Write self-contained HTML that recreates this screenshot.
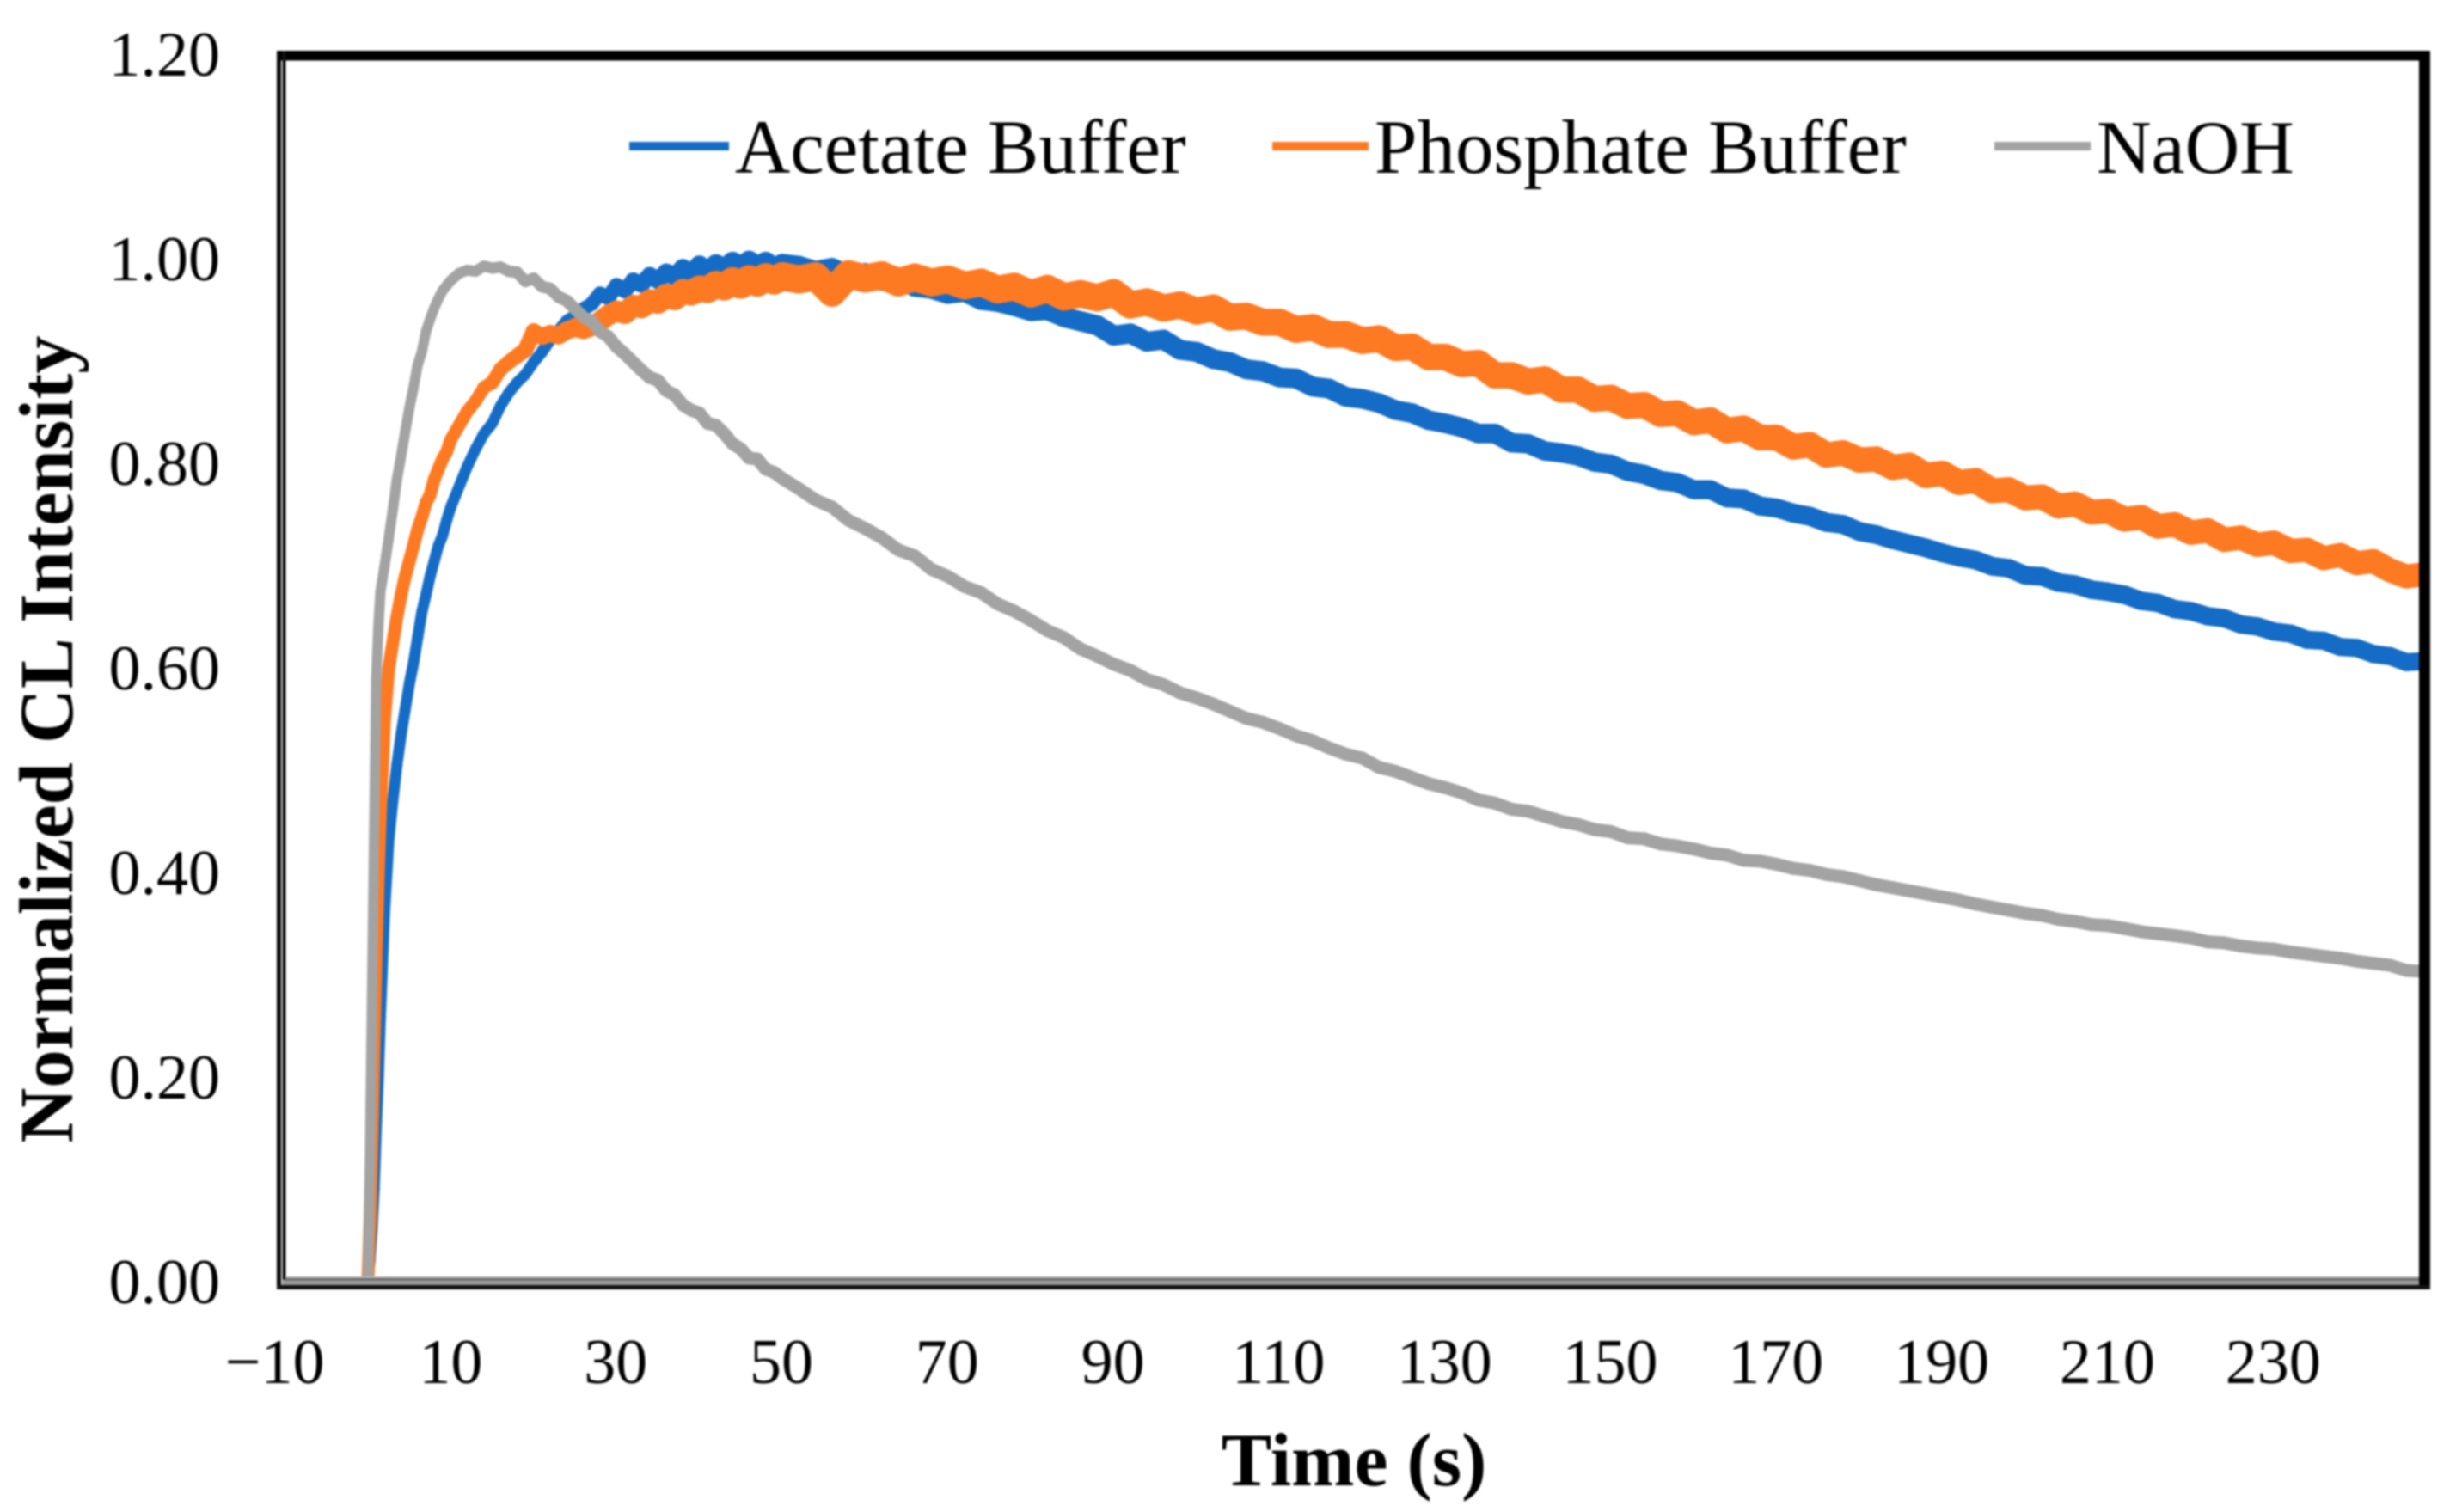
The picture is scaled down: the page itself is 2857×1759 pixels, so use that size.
<!DOCTYPE html>
<html lang="en">
<head>
<meta charset="utf-8">
<title>Normalized CL Intensity vs Time</title>
<style>
html,body{margin:0;padding:0;background:#fff;}
body{width:2857px;height:1759px;overflow:hidden;}
svg{display:block;filter:blur(1px);}
text{font-family:"Liberation Serif",serif;fill:#000;}
</style>
</head>
<body>
<svg id="chart" xmlns="http://www.w3.org/2000/svg" width="2857" height="1759" viewBox="0 0 2857 1759">
  <defs>
    <clipPath id="plot-clip"><rect x="333" y="70" width="2488" height="1425"/></clipPath>
  </defs>
  <rect x="0" y="0" width="2857" height="1759" fill="#fff"/>
  <g id="series-layer" clip-path="url(#plot-clip)"></g>
  <g>
    <rect x="322" y="59" width="2505" height="11.5" fill="#000"/>
    <rect x="2814" y="59" width="13" height="1441" fill="#000"/>
    <rect x="322" y="59" width="5" height="1441" fill="#000"/>
    <rect x="328.5" y="59" width="4" height="1430" fill="#111"/>
    <rect x="332" y="1485" width="2482" height="2" fill="#bbb"/>
    <rect x="332" y="1487" width="2482" height="2.5" fill="#666"/>
    <rect x="328" y="1489.5" width="2486" height="6" fill="#999"/>
    <rect x="322" y="1495" width="2505" height="5" fill="#111"/>
  </g>
  <g id="tick-layer"></g>
  <text transform="translate(84,860) rotate(-90)" text-anchor="middle" font-size="88.5" font-weight="700">Normalized CL Intensity</text>
  <text x="1575" y="1728" text-anchor="middle" font-size="88" font-weight="700">Time (s)</text>
  <g>
    <line x1="732" x2="848" y1="170" y2="170" stroke="#156cc6" stroke-width="10"/>
    <text x="855" y="201" font-size="89">Acetate Buffer</text>
    <line x1="1480" x2="1592" y1="170" y2="170" stroke="#fe7a22" stroke-width="10"/>
    <text x="1599" y="201" font-size="89">Phosphate Buffer</text>
    <line x1="2320" x2="2432" y1="170" y2="170" stroke="#a3a3a3" stroke-width="10"/>
    <text x="2439" y="201" font-size="88">NaOH</text>
  </g>
</svg>
<script>
const times = [0,0.25,0.5,0.75,1,1.25,1.5,2,2.5,3,3.5,4,4.5,5,5.5,6,6.5,7,7.5,8,8.5,9,9.5,10,
11,12,13,14,15,16,17,18,19,20,21,22,23,24,25,26,27,28,29,30,31,32,33,34,35,36,37,38,39,40,41,42,43,44,45,46,47,48,49,50,
52,54,56,58,60,62,64,66,68,70,72,74,76,78,80,82,84,86,88,90,92,94,96,98,100,102,104,106,108,110,112,114,116,118,120,
122,124,126,128,130,132,134,136,138,140,142,144,146,148,150,152,154,156,158,160,162,164,166,168,170,172,174,176,178,180,
182,184,186,188,190,192,194,196,198,200,202,204,206,208,210,212,214,216,218,220,222,224,226,228,230,232,234,236,238,240,242,244,246,248];

const acetate = [0,0.02,0.05,0.09,0.15,0.2,0.26,0.36,0.43,0.47,0.505,0.535,0.56,0.585,0.605,0.63,0.655,0.672,0.69,0.705,0.72,0.73,0.745,0.758,
0.778,0.798,0.815,0.83,0.84,0.857,0.87,0.88,0.888,0.9,0.91,0.922,0.93,0.94,0.945,0.952,0.957,0.967,0.963,0.975,0.97,0.98,0.976,0.985,0.98,0.988,0.984,0.992,0.987,0.995,0.989,0.996,0.991,0.998,0.993,0.999,0.993,0.998,0.992,0.996,
0.994,0.989,0.992,0.985,0.987,0.98,0.983,0.974,0.972,0.967,0.969,0.961,0.959,0.955,0.95,0.951,0.944,0.94,0.936,0.926,
0.928,0.92,0.922,0.912,0.91,0.903,0.9,0.893,0.891,0.885,0.884,0.876,0.874,0.866,0.864,0.86,0.853,0.85,0.843,0.84,
0.836,0.83,0.83,0.821,0.82,0.813,0.811,0.808,0.802,0.8,0.793,0.79,0.784,0.782,0.775,0.775,0.767,0.766,0.759,0.757,
0.752,0.749,0.743,0.741,0.734,0.731,0.726,0.722,0.718,0.713,0.709,0.706,0.7,0.698,0.691,0.69,0.684,0.682,0.677,0.675,
0.672,0.666,0.664,0.658,0.656,0.651,0.649,0.643,0.641,0.636,0.634,0.628,0.627,0.621,0.62,0.614,0.612,0.606,0.607];

const phosphate = [0,0.06,0.14,0.24,0.33,0.4,0.46,0.55,0.6,0.625,0.65,0.672,0.69,0.705,0.72,0.736,0.748,0.762,0.77,0.785,0.795,0.805,0.812,0.824,
0.838,0.852,0.862,0.875,0.88,0.893,0.9,0.906,0.912,0.93,0.925,0.928,0.926,0.931,0.934,0.932,0.935,0.94,0.946,0.95,0.948,0.955,0.954,0.96,0.959,0.965,0.963,0.969,0.968,0.972,0.971,0.976,0.974,0.979,0.976,0.981,0.978,0.983,0.98,0.984,
0.981,0.984,0.968,0.986,0.982,0.985,0.978,0.983,0.978,0.981,0.975,0.978,0.971,0.974,0.967,0.972,0.964,0.967,0.963,0.968,
0.956,0.959,0.953,0.956,0.95,0.953,0.944,0.945,0.939,0.939,0.932,0.934,0.927,0.927,0.921,0.923,0.914,0.915,0.905,0.905,
0.898,0.899,0.887,0.887,0.881,0.883,0.873,0.873,0.864,0.865,0.857,0.858,0.849,0.85,0.841,0.843,0.833,0.835,0.826,0.826,
0.817,0.819,0.809,0.811,0.804,0.805,0.797,0.799,0.789,0.791,0.782,0.784,0.774,0.775,0.767,0.768,0.759,0.761,0.753,0.754,
0.746,0.748,0.739,0.741,0.733,0.735,0.726,0.728,0.721,0.723,0.715,0.716,0.708,0.711,0.703,0.705,0.696,0.69,0.692];

const naoh = [0,0.12,0.28,0.44,0.59,0.64,0.675,0.7,0.727,0.755,0.785,0.808,0.832,0.855,0.875,0.897,0.91,0.93,0.942,0.953,0.962,0.97,0.975,0.98,
0.987,0.99,0.989,0.994,0.992,0.993,0.989,0.988,0.979,0.982,0.974,0.972,0.964,0.96,0.952,0.944,0.94,0.93,0.925,0.915,0.908,0.9,0.892,0.885,0.882,0.872,0.868,0.858,0.853,0.85,0.84,0.838,0.83,0.82,0.815,0.806,0.805,0.795,0.792,0.786,
0.776,0.765,0.758,0.745,0.737,0.728,0.716,0.71,0.697,0.69,0.68,0.674,0.663,0.656,0.647,0.637,0.63,0.619,0.612,0.604,
0.598,0.589,0.584,0.576,0.571,0.565,0.558,0.551,0.547,0.541,0.534,0.529,0.522,0.516,0.512,0.503,0.499,0.493,0.487,0.483,
0.478,0.471,0.468,0.462,0.46,0.455,0.45,0.447,0.442,0.44,0.434,0.433,0.428,0.426,0.423,0.419,0.417,0.412,0.411,0.408,
0.404,0.402,0.398,0.396,0.392,0.388,0.385,0.382,0.379,0.376,0.373,0.369,0.366,0.363,0.36,0.358,0.354,0.352,0.349,0.348,
0.345,0.342,0.34,0.338,0.336,0.332,0.331,0.328,0.326,0.325,0.322,0.32,0.318,0.316,0.313,0.311,0.309,0.304,0.303];

const xTicks = [-10,10,30,50,70,90,110,130,150,170,190,210,230];
const yTicks = [0,0.2,0.4,0.6,0.8,1.0,1.2];

function xScale(t){ return 428 + 9.64 * t; }
function yScale(v){ return 1490 - 1187.5 * v; }
function yLabelPos(v){ return 1490 - 1190 * v; }

const NS = 'http://www.w3.org/2000/svg';
const seriesLayer = document.getElementById('series-layer');
const tickLayer = document.getElementById('tick-layer');

/* the measured trace is a noisy band: its visual thickness grows along the run */
function bandWidth(t, a, b, c, t1, t2){
  if (t <= t1) return a;
  if (t <= t2) return a + (b - a) * (t - t1) / (t2 - t1);
  return b + (c - b) * (t - t2) / (248 - t2);
}

function drawSeries(values, color, name, a, b, c, t1, t2){
  const group = document.createElementNS(NS, 'g');
  
  
  group.setAttribute('stroke', color);
  group.setAttribute('stroke-linecap', 'round');
  group.setAttribute('fill', 'none');
  for (let i = 1; i < values.length; i++) {
    const seg = document.createElementNS(NS, 'line');
    seg.setAttribute('x1', xScale(times[i - 1]).toFixed(1));
    seg.setAttribute('y1', yScale(values[i - 1]).toFixed(1));
    seg.setAttribute('x2', xScale(times[i]).toFixed(1));
    seg.setAttribute('y2', yScale(values[i]).toFixed(1));
    seg.setAttribute('stroke-width', bandWidth(times[i], a, b, c, t1, t2).toFixed(1));
    group.appendChild(seg);
  }
  seriesLayer.appendChild(group);
}
drawSeries(acetate, '#156cc6', 'series-acetate-buffer', 13, 24, 21, 20, 45);
drawSeries(phosphate, '#fe7a22', 'series-phosphate-buffer', 15, 33, 28, 14, 45);
drawSeries(naoh, '#a3a3a3', 'series-naoh', 12, 15, 15, 8, 30);

xTicks.forEach(function(t){
  const label = document.createElementNS(NS, 'text');
  label.setAttribute('x', xScale(t) - (t < 0 ? 12 : (t > 10 ? 1 : 0)));
  label.setAttribute('y', 1609);
  label.setAttribute('text-anchor', 'middle');
  label.setAttribute('font-size', '74');
  label.textContent = (t < 0 ? '\u2212' + Math.abs(t) : String(t));
  
  
  tickLayer.appendChild(label);
});
yTicks.forEach(function(v){
  const label = document.createElementNS(NS, 'text');
  label.setAttribute('x', 256);
  label.setAttribute('y', yLabelPos(v) + 26);
  label.setAttribute('text-anchor', 'end');
  label.setAttribute('font-size', '74');
  label.textContent = v.toFixed(2);
  
  
  tickLayer.appendChild(label);
});
</script>
</body>
</html>
